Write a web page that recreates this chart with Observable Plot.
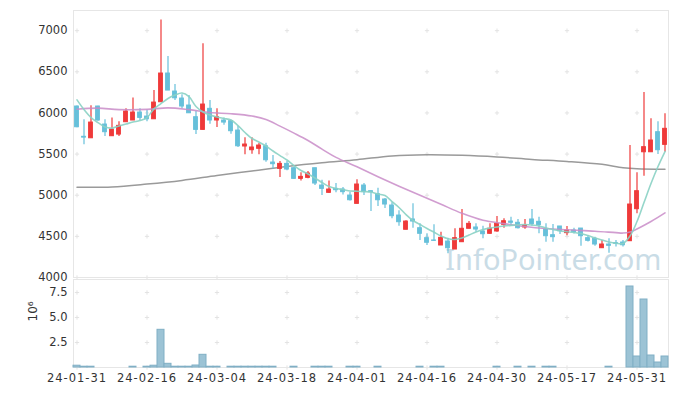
<!DOCTYPE html>
<html><head><meta charset="utf-8">
<script src="https://cdn.jsdelivr.net/npm/d3@7"></script>
<script src="https://cdn.jsdelivr.net/npm/@observablehq/plot@0.6"></script>
<style>
body{margin:0;background:#fff;}
#chart svg{display:block;}
#chart svg g[aria-label="x-axis tick label"] text, #chart svg g[aria-label="x-axis"] text{letter-spacing:1px;font-family:'DejaVu Sans',sans-serif;font-size:11.5px;}
#chart svg g[aria-label="y-axis tick label"] text, #chart svg g[aria-label="y-axis"] text{font-family:'DejaVu Sans',sans-serif;font-size:11.5px;}
</style></head><body><div id="chart"></div>
<script>
const dates = ["24-01-31","24-02-01","24-02-02","24-02-05","24-02-06","24-02-07","24-02-08","24-02-13","24-02-14","24-02-15",
"24-02-16","24-02-19","24-02-20","24-02-21","24-02-22","24-02-23","24-02-26","24-02-27","24-02-28","24-02-29",
"24-03-04","24-03-05","24-03-06","24-03-07","24-03-08","24-03-11","24-03-12","24-03-13","24-03-14","24-03-15",
"24-03-18","24-03-19","24-03-20","24-03-21","24-03-22","24-03-25","24-03-26","24-03-27","24-03-28","24-03-29",
"24-04-01","24-04-02","24-04-03","24-04-04","24-04-05","24-04-08","24-04-09","24-04-11","24-04-12","24-04-15",
"24-04-16","24-04-17","24-04-18","24-04-19","24-04-22","24-04-23","24-04-24","24-04-25","24-04-26","24-04-29",
"24-04-30","24-05-02","24-05-03","24-05-07","24-05-08","24-05-09","24-05-10","24-05-13","24-05-14","24-05-16",
"24-05-17","24-05-20","24-05-21","24-05-22","24-05-23","24-05-24","24-05-27","24-05-28","24-05-29","24-05-30",
"24-05-31","24-06-03","24-06-04","24-06-05","24-06-07"];
const open = [6078,5710,5692,6078,5859,5717,5737,5887,5908,6005,
5956,5923,6130,6479,6260,6175,6090,5948,5794,6050,
5908,5908,5900,5786,5592,5547,5564,5595,5397,5320,
5381,5328,5199,5211,5328,5118,5029,5077,5069,4996,
4895,5118,5049,5012,4948,4875,4753,4580,4705,4599,
4478,4450,4389,4437,4340,4429,4592,4608,4559,4531,
4559,4640,4680,4665,4608,4705,4677,4583,4514,4620,
4539,4571,4595,4478,4470,4356,4401,4417,4425,4441,
4830,5522,5522,5766,5612];
const high = [6085,5916,6086,6080,5916,5940,5892,6050,6183,6050,
6037,6272,7131,6685,6345,6220,6211,6020,6840,6150,
6050,5940,5910,5838,5697,5697,5632,5632,5482,5409,
5409,5340,5272,5288,5328,5182,5174,5142,5093,5037,
5187,5142,5049,5085,4960,4908,4810,4690,4895,4652,
4531,4640,4550,4478,4592,4826,4680,4652,4623,4652,
4741,4713,4733,4705,4705,4826,4733,4652,4644,4620,
4620,4600,4595,4510,4490,4450,4470,4450,4450,5604,
5272,6248,5928,5892,5989];
const low = [5820,5612,5692,5900,5713,5713,5713,5887,5908,5908,
5892,5923,6126,6272,6150,6050,5996,5737,5794,5863,
5823,5850,5740,5580,5491,5498,5491,5400,5320,5215,
5296,5190,5174,5199,5118,4996,5020,5029,5004,4930,
4895,4996,4802,4862,4840,4713,4623,4580,4599,4450,
4389,4437,4389,4288,4340,4429,4592,4550,4470,4525,
4550,4599,4623,4590,4586,4623,4531,4429,4429,4522,
4506,4530,4380,4430,4380,4356,4295,4370,4370,4441,
4774,5231,5522,5494,5522];
const close = [5826,5700,5883,5908,5766,5798,5843,6017,6005,5940,
5923,6126,6479,6272,6178,6078,5996,5794,6102,5908,
5948,5883,5778,5595,5616,5580,5604,5425,5377,5381,
5312,5199,5223,5264,5142,5077,5069,5061,5037,4939,
5130,5037,5037,4939,4887,4745,4672,4680,4680,4531,
4422,4445,4482,4356,4478,4592,4652,4583,4526,4592,
4652,4684,4665,4599,4632,4648,4636,4502,4490,4563,
4571,4551,4502,4446,4401,4401,4385,4410,4392,4887,
5049,5584,5665,5547,5807];
const volume = [180000,80000,80000,0,0,0,0,0,80000,0,
80000,180000,3770000,370000,80000,80000,80000,200000,1270000,80000,
80000,0,80000,80000,80000,80000,80000,80000,80000,0,
0,80000,0,0,80000,80000,80000,0,0,80000,
80000,0,0,80000,0,0,0,0,0,80000,
0,80000,80000,0,0,0,0,0,0,0,
80000,0,0,80000,0,80000,0,80000,80000,0,
0,0,0,0,0,0,80000,0,0,8100000,
1100000,6800000,1200000,500000,1100000];
const ma5 = [6159,6041,5944,5883,5829,5816,5841,5865,5889,5908,
5944,6050,6114,6175,6217,6242,6199,6078,6011,5974,
5950,5932,5914,5847,5762,5689,5646,5598,5537,5482,
5428,5361,5300,5258,5209,5154,5106,5081,5069,5051,
5049,5045,5039,5015,4996,4923,4851,4765,4693,4644,
4595,4550,4504,4470,4462,4480,4516,4553,4583,4601,
4614,4626,4634,4640,4644,4638,4626,4601,4583,4565,
4556,4547,4535,4510,4480,4456,4431,4416,4413,4504,
4680,4911,5142,5349,5531];
const ma20Dates = ["24-01-31","24-02-05","24-02-08","24-02-16","24-02-21","24-02-26","24-02-29","24-03-06","24-03-11","24-03-13",
"24-03-15","24-03-19","24-03-21","24-03-25","24-03-27","24-04-01","24-04-04","24-04-09","24-04-15","24-04-18",
"24-04-23","24-04-26","24-05-02","24-05-08","24-05-13","24-05-17","24-05-23","24-05-28","24-05-29","24-05-30",
"24-05-31","24-06-04","24-06-07"];
const ma20Values = [6045,6058,6040,6043,6062,6040,6005,5990,5962,5920,
5840,5755,5665,5560,5460,5345,5225,5110,5000,4890,
4780,4695,4655,4620,4595,4580,4563,4545,4540,4553,
4590,4680,4785];
const ma120Dates = ["24-01-31","24-02-07","24-02-16","24-02-23","24-03-04","24-03-11","24-03-18","24-03-25","24-04-01","24-04-08",
"24-04-16","24-04-23","24-04-30","24-05-09","24-05-17","24-05-24","24-05-29","24-05-31","24-06-07"];
const ma120Values = [5097,5100,5135,5180,5240,5295,5350,5395,5432,5478,
5492,5485,5465,5435,5410,5375,5335,5322,5315];
const xTickLabels = ["24-01-31","24-02-16","24-03-04","24-03-18","24-04-01","24-04-16","24-04-30","24-05-17","24-05-31"];
const priceTicks = [4000,4500,5000,5500,6000,6500,7000];
const volumeTicks = [2500000,5000000,7500000];

const W = 677, ML = 73, MR = 9;
const RED = "#ef3a3a", BLUE = "#67c0da";
const FONT = "'DejaVu Sans',sans-serif";
const tickSet = new Set(xTickLabels);

const candles = dates.map((d, i) => ({date: d, open: open[i], high: high[i], low: low[i], close: close[i]}));
const ups = candles.filter(d => d.close >= d.open);
const downs = candles.filter(d => d.close < d.open);
const ma5Data = dates.map((d, i) => ({date: d, v: ma5[i]}));
const ma20Data = ma20Dates.map((d, i) => ({date: d, v: ma20Values[i]}));
const ma120Data = ma120Dates.map((d, i) => ({date: d, v: ma120Values[i]}));
const volData = dates.map((d, i) => ({date: d, v: volume[i]})).filter(d => d.v > 0);
const mainCross = d3.cross(xTickLabels, priceTicks).map(([x, y]) => ({x, y}));
const volCross = d3.cross(xTickLabels, [0, ...volumeTicks]).map(([x, y]) => ({x, y}));

const main = Plot.plot({
  width: W, height: 278, marginLeft: ML, marginRight: MR, marginTop: 10, marginBottom: 1,
  style: {fontFamily: FONT, fontSize: "11.5px", color: "#333", background: "#fff", overflow: "visible"},
  x: {type: "band", domain: dates, padding: 0, axis: null},
  y: {domain: [4000, 7245], ticks: priceTicks, tickSize: 0, tickPadding: 6, label: null, tickFormat: d => String(d)},
  marks: [
    Plot.text(["InfoPointer.com"], {frameAnchor: "bottom-right", dx: -7, dy: -8, lineAnchor: "bottom", textAnchor: "end",
      fontSize: 29, fill: "#c9dce6", fontFamily: "'Noto Sans',sans-serif"}),
    Plot.dot(mainCross, {x: "x", y: "y", symbol: "plus", r: 1.5, stroke: "#e3e3e3", strokeWidth: 1}),
    Plot.frame({stroke: "#e6e6e6"}),
    Plot.line(ma120Data, {x: "date", y: "v", stroke: "#9a9a9a", strokeWidth: 1.5, curve: "catmull-rom"}),
    Plot.ruleX(ups, {x: "date", y1: "low", y2: "high", stroke: RED, strokeWidth: 1.2}),
    Plot.ruleX(downs, {x: "date", y1: "low", y2: "high", stroke: BLUE, strokeWidth: 1.2}),
    Plot.barY(ups, {x: "date", y1: "open", y2: "close", fill: RED, stroke: RED, strokeWidth: 1, insetLeft: 1.6, insetRight: 1.6}),
    Plot.barY(downs, {x: "date", y1: "open", y2: "close", fill: BLUE, stroke: BLUE, strokeWidth: 1, insetLeft: 1.6, insetRight: 1.6}),
    Plot.line(ma20Data, {x: "date", y: "v", stroke: "#c98cc8", strokeWidth: 1.6, strokeOpacity: 0.85, curve: "catmull-rom"}),
    Plot.line(ma5Data, {x: "date", y: "v", stroke: "#8ad1c4", strokeWidth: 1.6, strokeOpacity: 0.9, curve: "catmull-rom"})
  ]
});

const vol = Plot.plot({
  width: W, height: 118, marginLeft: ML, marginRight: MR, marginTop: 1, marginBottom: 29,
  style: {fontFamily: FONT, fontSize: "11.5px", color: "#333", background: "#fff", overflow: "visible"},
  x: {type: "band", domain: dates, padding: 0, tickSize: 0, tickPadding: 6.5, label: null,
      tickFormat: d => tickSet.has(d) ? d : ""},
  y: {domain: [0, 8800000], ticks: volumeTicks, tickSize: 0, tickPadding: 6, label: null,
      tickFormat: d => (d / 1e6).toFixed(1)},
  marks: [
    Plot.dot(volCross, {x: "x", y: "y", symbol: "plus", r: 1.5, stroke: "#e3e3e3", strokeWidth: 1}),
    Plot.frame({stroke: "#e6e6e6"}),
    Plot.barY(volData, {x: "date", y: "v", fill: "#9cc3d5", stroke: "#80afc5", strokeWidth: 1}),
    Plot.text(["10⁶"], {frameAnchor: "left", dx: -40, dy: -2, rotate: -90, fontSize: 12, fill: "#333"})
  ]
});

document.getElementById("chart").append(main, vol);
</script>
</body></html>
